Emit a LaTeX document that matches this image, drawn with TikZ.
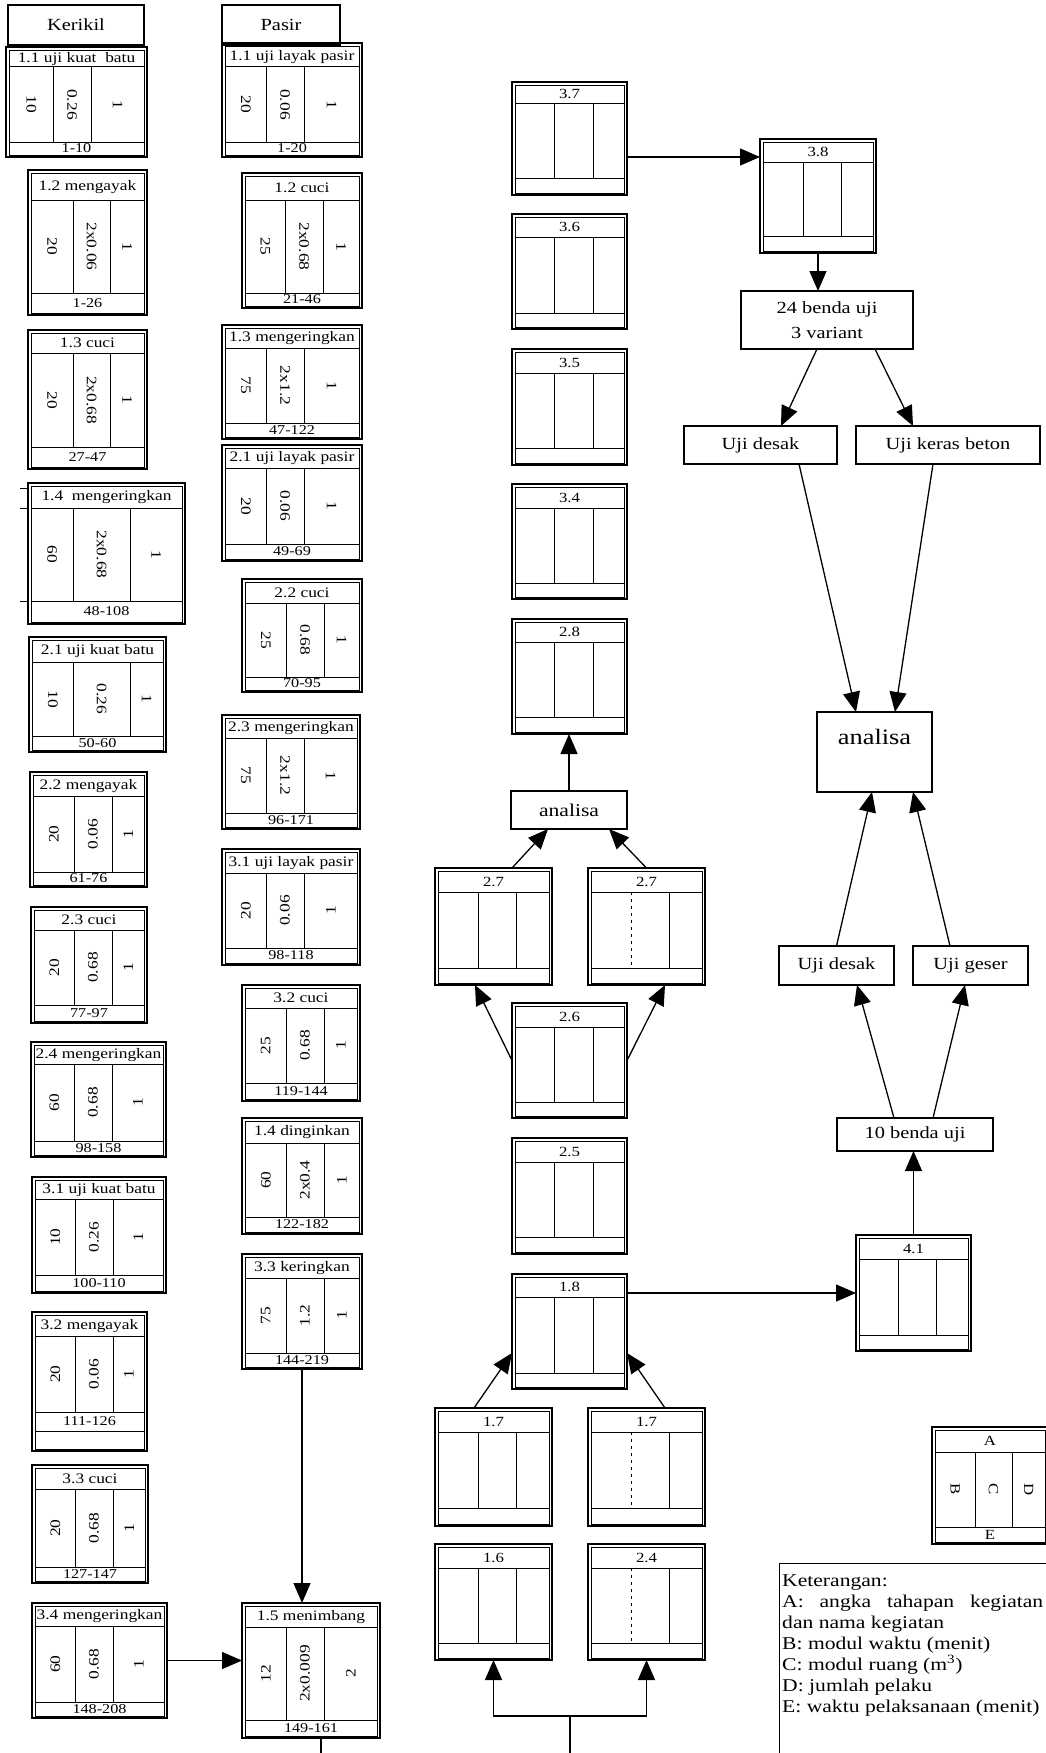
\documentclass[tikz,border=0pt]{standalone}
\usepackage{fontspec}
\setmainfont{Liberation Serif}[FakeStretch=1.2]
\usepackage{graphicx}
\usetikzlibrary{arrows.meta,calc}
\tikzset{
 boxframe/.style={draw, line width=1.5pt, inner sep=0pt, outer sep=0pt},
 inl/.style={line width=1pt},
 dA/.style={},
 hdr/.style={inner sep=0pt, font=\fontsize{14.5}{16}\selectfont},
 mhdr/.style={inner sep=0pt, font=\fontsize{14}{15}\selectfont},
 val/.style={inner sep=0pt, font=\fontsize{14.5}{16}\selectfont},
 ftr/.style={inner sep=0pt, font=\fontsize{13.5}{15}\selectfont},
 lbl/.style={draw, line width=1.3pt, inner sep=0pt, outer sep=0pt, font=\fontsize{17}{25}\selectfont, align=center},
 ttl/.style={draw, line width=1.4pt, inner sep=0pt, outer sep=0pt, anchor=north west, font=\fontsize{17}{20}\selectfont},
 arr/.style={line width=1.3pt, -{Triangle[length=20pt,width=17pt]}},
 conn/.style={line width=1.3pt},
}
% #1 name #2 x1 #3 y1 #4 x2 #5 y2 #6 header line #7 footer line #8 divider1 #9 divider2
\newcommand\actbox[9]{%
 \node[boxframe, anchor=north west, minimum width={(#4-#2)*1pt}, minimum height={(#5-#3)*1pt}] (#1) at (#2,#3) {};
 \draw[inl] (#2+3.5,#3+3.5) rectangle (#4-2.5,#5-2);
 \draw[inl] (#2+3.5,#6) -- (#4-2.5,#6) (#2+3.5,#7) -- (#4-2.5,#7);
 \draw[inl,dA] (#8,#6) -- (#8,#7);
 \draw[inl] (#9,#6) -- (#9,#7);
 \coordinate (#1-a) at ({(#2+#4)/2},{(#3+3.5+#6)/2});
 \coordinate (#1-b) at ({(#2+3.5+#8)/2},{(#6+#7)/2});
 \coordinate (#1-c) at ({(#8+#9)/2},{(#6+#7)/2});
 \coordinate (#1-d) at ({(#9+#4-2.5)/2},{(#6+#7)/2});
 \coordinate (#1-e) at ({(#2+#4)/2},{(#7+#5-2)/2});
}
% #1 name #2 rotation #3 B #4 C #5 D #6 E #7 header
\newcommand\vals[7]{%
 \node[hdr] (#1h) at (#1-a) {#7};
 \node[val,rotate=#2] (#1b) at (#1-b) {#3};
 \node[val,rotate=#2] (#1c) at (#1-c) {#4};
 \node[val,rotate=#2] (#1d) at (#1-d) {#5};
 \node[ftr] (#1f) at (#1-e) {#6};
}
\begin{document}
\begin{tikzpicture}[x=1pt,y=-1pt]
\fill[white] (0,0) rectangle (1046,1753);
\useasboundingbox (0,0) rectangle (1046,1753);

% ---------- Kerikil column ----------
\node[ttl, minimum width=136pt, minimum height=40pt] (kerikil) at (8,5) {Kerikil};
\actbox{K11}{6}{47}{147}{157}{67}{142}{53}{91}
\vals{K11}{-90}{10}{0.26}{1}{1-10}{1.1 uji kuat\ \ batu}
\actbox{K12}{28}{170}{147}{315}{200}{293}{73}{110}
\vals{K12}{-90}{20}{2x0.06}{1}{1-26}{1.2 mengayak}
\actbox{K13}{28}{330}{147}{469}{353}{447}{73}{110}
\vals{K13}{-90}{20}{2x0.68}{1}{27-47}{1.3 cuci}
\actbox{K14}{28}{483}{185}{624}{508}{601}{73}{130}
\vals{K14}{-90}{60}{2x0.68}{1}{48-108}{1.4\ \ mengeringkan}
\draw[inl] (20,488) -- (28,488) (20,508) -- (28,508) (20,601) -- (28,601);
\actbox{K21}{29}{637}{166}{752}{662}{736}{73}{130}
\vals{K21}{-90}{10}{0.26}{1}{50-60}{2.1 uji kuat batu}
\actbox{K22}{30}{772}{147}{887}{796}{872}{74}{112}
\vals{K22}{90}{20}{0.06}{1}{61-76}{2.2 mengayak}
\actbox{K23}{31}{907}{147}{1023}{930}{1005}{74}{112}
\vals{K23}{90}{20}{0.68}{1}{77-97}{2.3 cuci}
\actbox{K24}{31}{1042}{166}{1157}{1064}{1141}{74}{112}
\vals{K24}{90}{60}{0.68}{1}{98-158}{2.4 mengeringkan}
\actbox{K31}{32}{1177}{166}{1293}{1199}{1275}{75}{113}
\vals{K31}{90}{10}{0.26}{1}{100-110}{3.1 uji kuat batu}
\actbox{K32}{32}{1312}{147}{1451}{1336}{1412}{75}{113}
\draw[inl] (35.5,1431) -- (144.5,1431);
\coordinate (K32-e) at (89.5,1421.5);
\vals{K32}{90}{20}{0.06}{1}{111-126}{3.2 mengayak}
\actbox{K33}{32}{1465}{148}{1583}{1489}{1567}{75}{113}
\vals{K33}{90}{20}{0.68}{1}{127-147}{3.3 cuci}
\actbox{K34}{32}{1603}{167}{1718}{1626}{1702}{75}{113}
\vals{K34}{90}{60}{0.68}{1}{148-208}{3.4 mengeringkan}

% ---------- Pasir column ----------
\node[ttl, minimum width=118pt, minimum height=40pt] (pasir) at (222,5) {Pasir};
\actbox{P11}{222}{43}{362}{157}{67}{142}{266}{304}
\vals{P11}{-90}{20}{0.06}{1}{1-20}{1.1 uji layak pasir}
\actbox{P12}{242}{173}{362}{308}{200}{293}{285}{323}
\vals{P12}{-90}{25}{2x0.68}{1}{21-46}{1.2 cuci}
\actbox{P13}{222}{325}{362}{439}{348}{423}{266}{304}
\vals{P13}{-90}{75}{2x1.2}{1}{47-122}{1.3 mengeringkan}
\actbox{P21}{222}{445}{362}{561}{468}{544}{266}{304}
\vals{P21}{-90}{20}{0.06}{1}{49-69}{2.1 uji layak pasir}
\actbox{P22}{242}{579}{362}{692}{603}{677}{286}{324}
\vals{P22}{-90}{25}{0.68}{1}{70-95}{2.2 cuci}
\actbox{P23}{222}{715}{360}{829}{738}{813}{266}{304}
\vals{P23}{-90}{75}{2x1.2}{1}{96-171}{2.3 mengeringkan}
\actbox{P31}{222}{849}{360}{965}{873}{948}{266}{304}
\vals{P31}{90}{20}{0.06}{1}{98-118}{3.1 uji layak pasir}
\actbox{P32}{242}{985}{360}{1101}{1008}{1083}{286}{324}
\vals{P32}{90}{25}{0.68}{1}{119-144}{3.2 cuci}
\actbox{P14}{242}{1118}{362}{1234}{1143}{1217}{286}{324}
\vals{P14}{90}{60}{2x0.4}{1}{122-182}{1.4 dinginkan}
\actbox{P33}{242}{1254}{362}{1369}{1278}{1353}{286}{324}
\vals{P33}{90}{75}{1.2}{1}{144-219}{3.3 keringkan}
\actbox{P15}{242}{1603}{380}{1738}{1627}{1720}{286}{324}
\vals{P15}{90}{12}{2x0.009}{2}{149-161}{1.5 menimbang}

% ---------- middle column ----------
\actbox{M37}{512}{82}{627}{195}{103}{178}{554}{593}
\node[mhdr] (M37h) at (M37-a) {3.7};
\actbox{M36}{512}{214}{627}{329}{237}{313}{554}{593}
\node[mhdr] (M36h) at (M36-a) {3.6};
\actbox{M35}{512}{349}{627}{465}{373}{448}{554}{593}
\node[mhdr] (M35h) at (M35-a) {3.5};
\actbox{M34}{512}{484}{627}{599}{508}{583}{554}{593}
\node[mhdr] (M34h) at (M34-a) {3.4};
\actbox{M28}{512}{619}{627}{734}{642}{717}{554}{593}
\node[mhdr] (M28h) at (M28-a) {2.8};
\node[lbl, minimum width=116pt, minimum height=38pt, font=\fontsize{18}{20}\selectfont] (AS) at (569,810) {analisa};
\actbox{M27L}{435}{868}{552}{985}{892}{968}{478}{516}
\node[mhdr] (M27Lh) at (M27L-a) {2.7};
\begin{scope}[dA/.style={dash pattern=on 3pt off 4pt}]
\actbox{M27R}{588}{868}{705}{985}{892}{968}{631}{669}
\end{scope}
\node[mhdr] (M27Rh) at (M27R-a) {2.7};
\actbox{M26}{512}{1003}{627}{1118}{1027}{1102}{554}{593}
\node[mhdr] (M26h) at (M26-a) {2.6};
\actbox{M25}{512}{1138}{627}{1254}{1162}{1237}{554}{593}
\node[mhdr] (M25h) at (M25-a) {2.5};
\actbox{M18}{512}{1274}{627}{1389}{1297}{1373}{554}{593}
\node[mhdr] (M18h) at (M18-a) {1.8};
\actbox{M17L}{435}{1408}{552}{1526}{1432}{1508}{478}{516}
\node[mhdr] (M17Lh) at (M17L-a) {1.7};
\begin{scope}[dA/.style={dash pattern=on 3pt off 4pt}]
\actbox{M17R}{588}{1408}{705}{1526}{1432}{1508}{631}{669}
\end{scope}
\node[mhdr] (M17Rh) at (M17R-a) {1.7};
\actbox{M16}{435}{1544}{552}{1660}{1568}{1643}{478}{516}
\node[mhdr] (M16h) at (M16-a) {1.6};
\begin{scope}[dA/.style={dash pattern=on 3pt off 4pt}]
\actbox{M24}{588}{1544}{705}{1660}{1568}{1643}{631}{669}
\end{scope}
\node[mhdr] (M24h) at (M24-a) {2.4};

% ---------- right column ----------
\actbox{M38}{760}{139}{876}{253}{162}{236}{803}{841}
\node[mhdr] (M38h) at (M38-a) {3.8};
\node[lbl, minimum width=172pt, minimum height=58pt] (B24) at (827,320) {24 benda uji\\3 variant};
\node[lbl, minimum width=153pt, minimum height=38pt] (UD1) at (760.5,445) {Uji desak};
\node[lbl, minimum width=184pt, minimum height=38pt] (UK) at (948,445) {Uji keras beton};
\node[lbl, minimum width=115pt, minimum height=80pt] (AN) at (874.5,752) {};
\node[inner sep=0pt, font=\fontsize{22}{24}\selectfont] (ANt) at (874.5,737) {analisa};
\node[lbl, minimum width=115pt, minimum height=39pt] (UD2) at (836.5,965.5) {Uji desak};
\node[lbl, minimum width=115pt, minimum height=39pt] (UG) at (970.5,965.5) {Uji geser};
\node[lbl, minimum width=156pt, minimum height=33pt] (B10) at (915,1134.5) {10 benda uji};
\actbox{M41}{856}{1235}{971}{1351}{1259}{1335}{898}{936}
\node[mhdr] (M41h) at (M41-a) {4.1};

% legend box
\actbox{LG}{932}{1427}{1048}{1544}{1452}{1527}{975}{1012}
\node[mhdr] (LGh) at (LG-a) {A};
\node[mhdr,rotate=-90] (LGb) at (LG-b) {B};
\node[mhdr,rotate=-90] (LGc) at (LG-c) {C};
\node[mhdr,rotate=-90] (LGd) at (LG-d) {D};
\node[mhdr] (LGf) at (LG-e) {E};

% Keterangan
\node[draw, line width=1.2pt, anchor=north west, inner sep=0pt, minimum width=267pt, minimum height=200pt] (KET) at (779,1563) {};
\node[anchor=north west, inner sep=0pt, align=left, font=\fontsize{18}{21}\selectfont] (KETt) at (782,1574) {Keterangan:\\
\makebox[261pt][s]{A: angka tahapan kegiatan}\\
dan nama kegiatan\\
B: modul waktu (menit)\\
C: modul ruang (m\textsuperscript{3})\\
D: jumlah pelaku\\
E: waktu pelaksanaan (menit)};

% ---------- connectors ----------
\draw[arr] (K34.east) -- (K34.east -| P15.west);
\draw[arr] (P33.south) -- (P33.south |- P15.north);
\coordinate (p15end) at (321,1753);
\draw[conn] (p15end |- P15.south) -- (p15end);

\coordinate (forkbase) at (570,1753);
\coordinate (forkmid) at (570,1716);
\draw[conn] (forkbase) -- (forkmid);
\draw[arr] (forkmid) -| (M16.south);
\draw[arr] (forkmid) -| (M24.south);

\draw[arr] ([xshift=-19.5pt]M17L.north) -- ([yshift=-21.5pt]M18.west);
\draw[arr] ([xshift=18.5pt]M17R.north) -- ([yshift=-21.5pt]M18.east);
\draw[arr] ([yshift=38.5pt]M18.east) -- ([yshift=38.5pt]M18.east -| M41.west);
\draw[arr] (M41.north) -- (M41.north |- B10.south);
\draw[arr] ([xshift=-21pt]B10.north) -- ([xshift=20.5pt]UD2.south);
\draw[arr] ([xshift=18pt]B10.north) -- ([xshift=-5.5pt]UG.south);
\draw[arr] (UD2.north) -- ([xshift=-2.5pt]AN.south);
\draw[arr] ([xshift=-20.5pt]UG.north) -- ([xshift=38.5pt]AN.south);

\draw[arr] (M26.west) -- ([xshift=-18.5pt]M27L.south);
\draw[arr] (M26.east) -- ([xshift=18.5pt]M27R.south);
\draw[arr] ([xshift=18.5pt]M27L.north) -- ([xshift=-21pt]AS.south);
\draw[arr] (M27R.north) -- ([xshift=40pt]AS.south);
\draw[arr] (AS.north) -- (AS.north |- M28.south);

\draw[arr] ([yshift=-18.5pt]M37.east) -- ([yshift=-18.5pt]M37.east -| M38.west);
\draw[arr] (M38.south) -- (M38.south |- B24.north);
\draw[arr] ([xshift=-10pt]B24.south) -- ([xshift=20.5pt]UD1.north);
\draw[arr] ([xshift=48pt]B24.south) -- ([xshift=-35pt]UK.north);
\draw[arr] ([xshift=38.5pt]UD1.south) -- ([xshift=-18.5pt]AN.north);
\draw[arr] ([xshift=-15pt]UK.south) -- ([xshift=20.5pt]AN.north);
\end{tikzpicture}
\end{document}
